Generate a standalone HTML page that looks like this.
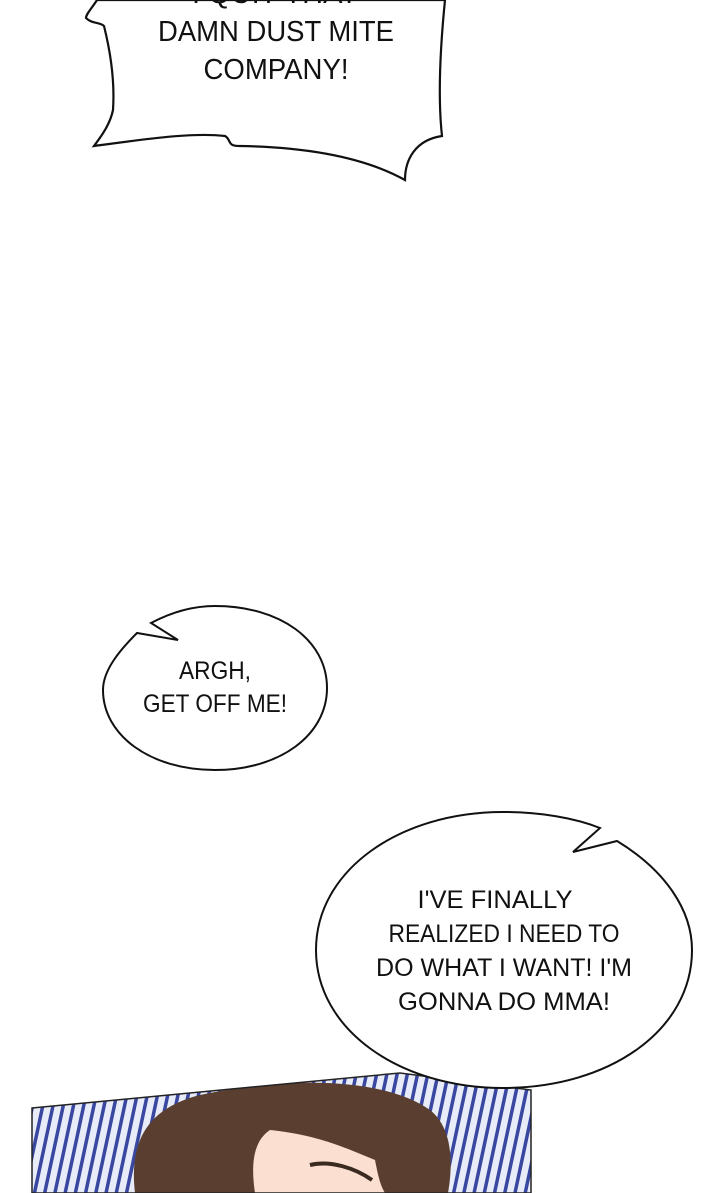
<!DOCTYPE html>
<html><head><style>
html,body{margin:0;padding:0;background:#fff;}
svg{display:block}
text{font-family:"Liberation Sans","DejaVu Sans",sans-serif;fill:#111;text-anchor:middle;}
</style></head><body>
<svg width="720" height="1193" viewBox="0 0 720 1193" xmlns="http://www.w3.org/2000/svg">
<defs>
<clipPath id="pc"><polygon points="32,1108 400,1073 531,1090 531,1193 32,1193"/></clipPath>
<pattern id="bl" width="10" height="14" patternUnits="userSpaceOnUse" patternTransform="rotate(12)">
<rect width="10" height="14" fill="#e8ecf8"/>
<rect width="3.5" height="14" fill="#3a47a0"/>
</pattern>
</defs>
<path d="M97,0 C92,8 86,14 86,18 C92,24 100,22 104,26 C110,50 115,80 113,110 C110,125 100,138 94,146 C140,140 190,132 225,136 C232,140 226,146 240,146 C300,147 360,155 405,180 C405,160 415,140 442,136 C438,100 440,50 445,0 Z" fill="#fff" stroke="#111" stroke-width="2.2"/>
<text x="275" y="3" font-size="29">I QUIT THAT</text>
<text x="276" y="41" font-size="29" textLength="236" lengthAdjust="spacingAndGlyphs">DAMN DUST MITE</text>
<text x="276" y="79" font-size="29" textLength="145" lengthAdjust="spacingAndGlyphs">COMPANY!</text>
<path d="M137,633 C120,650 103,670 103,690 C103,735 150,770 215,770 C280,770 327,735 327,688 C327,640 280,606 215,606 C190,606 168,614 151,623 L178,640 Z" fill="#fff" stroke="#111" stroke-width="2"/>
<text x="215" y="679" font-size="25" textLength="72" lengthAdjust="spacingAndGlyphs">ARGH,</text>
<text x="215" y="712" font-size="25" textLength="144" lengthAdjust="spacingAndGlyphs">GET OFF ME!</text>
<g clip-path="url(#pc)">
<rect x="30" y="1070" width="505" height="125" fill="url(#bl)"/>
<path d="M135,1193 C130,1150 140,1110 200,1095 C280,1078 380,1075 430,1110 C455,1130 452,1170 448,1193 Z" fill="#5a3f30"/>
<path d="M255,1193 C250,1160 255,1140 270,1130 C320,1135 350,1150 375,1160 C378,1175 380,1185 385,1193 Z" fill="#fbe0d2"/>
<path d="M310,1165 C330,1160 355,1168 372,1180" stroke="#3a2a20" stroke-width="4" fill="none"/>
</g>
<polygon points="32,1108 400,1073 531,1090 531,1193 32,1193" fill="none" stroke="#222" stroke-width="1.5"/>
<path d="M600,828 L573,852 L617,841 C665,870 692,910 692,950 C692,1030 610,1088 503,1088 C400,1088 316,1030 316,950 C316,870 400,812 503,812 C540,812 575,818 600,828 Z" fill="#fff" stroke="#111" stroke-width="2"/>
<text x="495" y="908" font-size="25" textLength="155" lengthAdjust="spacingAndGlyphs">I'VE FINALLY</text>
<text x="504" y="942" font-size="25" textLength="231" lengthAdjust="spacingAndGlyphs">REALIZED I NEED TO</text>
<text x="504" y="976" font-size="25" textLength="256" lengthAdjust="spacingAndGlyphs">DO WHAT I WANT! I'M</text>
<text x="504" y="1010" font-size="25" textLength="212" lengthAdjust="spacingAndGlyphs">GONNA DO MMA!</text>
</svg>
</body></html>
